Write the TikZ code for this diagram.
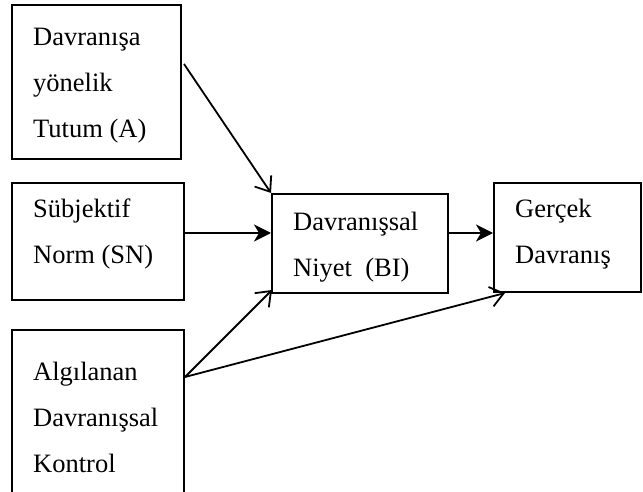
\documentclass[tikz,border=0pt]{standalone}
\usepackage{fontspec}
\setmainfont{Liberation Serif}
\usetikzlibrary{arrows.meta}
\begin{document}
\begin{tikzpicture}[x=1pt,y=1pt,
  box/.style={draw=black,line width=2pt,rectangle,inner sep=0pt,minimum width=#1},
  label/.style={inner sep=0pt,anchor=base west,align=left,
    font=\fontsize{26.5}{46}\selectfont},
  flat/.style={line width=1.8pt,-{Stealth[length=17pt,width=17pt,inset=5pt]}},
  slant/.style={line width=1.8pt,-{Straight Barb[length=13pt,width=20pt,line width=1.8pt]}}]
\useasboundingbox (0,0) rectangle (643,-492);

% boxes
\node[box=169pt,minimum height=154pt] (att) at (96.5,-82) {};
\node[box=172pt,minimum height=117pt] (sn)  at (98,-241.5) {};
\node[box=176pt,minimum height=99pt]  (bi)  at (360,-243.5) {};
\node[box=147pt,minimum height=109pt] (act) at (567.5,-237.5) {};
\node[box=172pt,minimum height=175pt] (pbc) at (98,-417.5) {};

% texts (anchored on the baseline of their last line)
\node[label] (tatt) at (33,-138) {Davranışa\\yönelik\\Tutum (A)};
\node[label] (tsn)  at (33,-263) {Sübjektif\\Norm (SN)};
\node[label] (tbi)  at (293,-276) {Davranışsal\\Niyet\hspace{0.5em}(BI)};
\node[label] (tact) at (515,-263) {Gerçek\\Davranış};
\node[label] (tpbc) at (33,-472) {Algılanan\\Davranışsal\\Kontrol};

% connector anchors
\coordinate (row) at (0,-233);
\coordinate (attout) at (184,-64);
\coordinate (pbcout) at (185,-377);
\coordinate (biin) at (272,-290);
\coordinate (actin) at (505,-293);

% connectors
\draw[slant] (attout) -- (bi.north west);
\draw[flat] (sn.east |- row) -- (bi.west |- row);
\draw[flat] (bi.east |- row) -- (act.west |- row);
\draw[slant] (pbcout) -- (biin);
\draw[slant] (pbcout) -- (actin);
\end{tikzpicture}
\end{document}
